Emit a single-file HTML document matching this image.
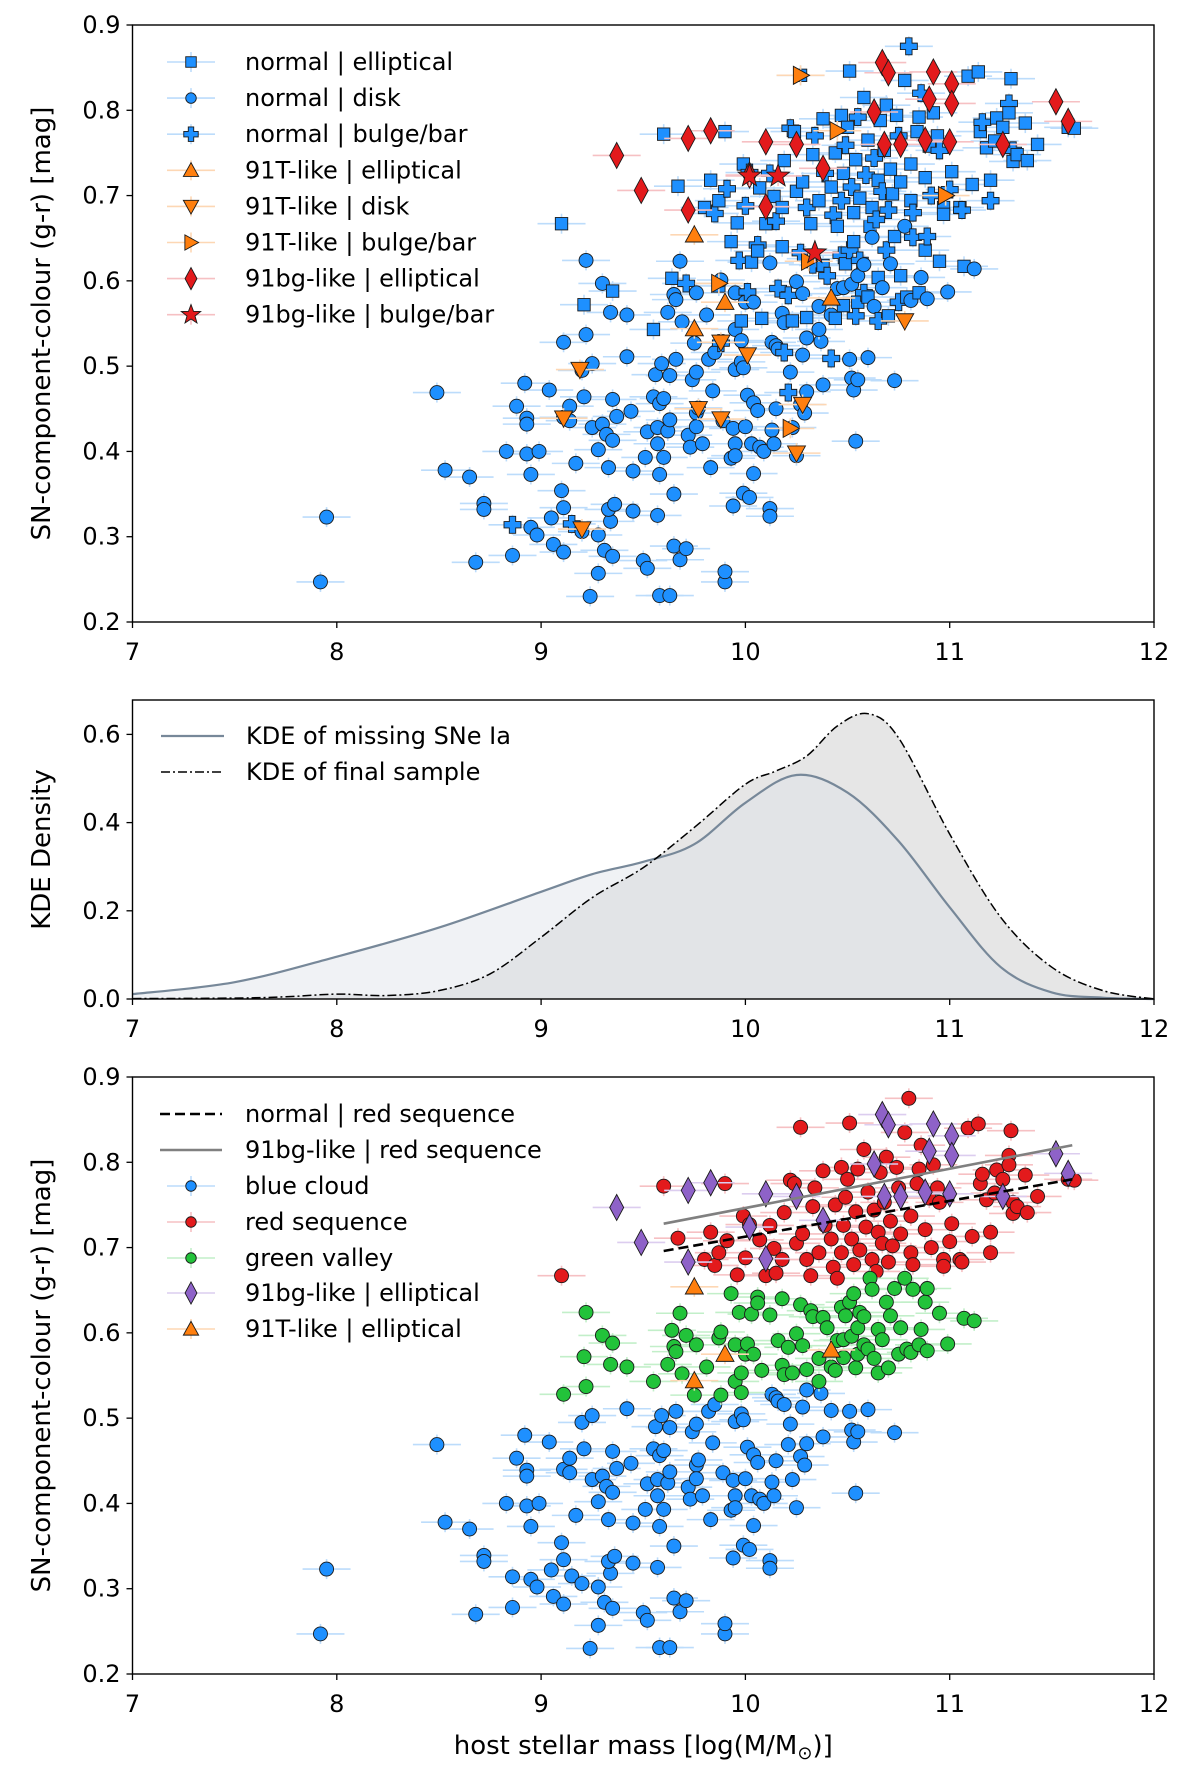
<!DOCTYPE html>
<html><head><meta charset="utf-8"><style>
html,body{margin:0;padding:0;background:#fff}
svg{display:block;font-family:"DejaVu Sans","Liberation Sans",sans-serif}
</style></head><body>
<svg id="fig" width="1200" height="1773" viewBox="0 0 1200 1773" xmlns="http://www.w3.org/2000/svg"></svg>
<script>
// ---------- data ----------
const xTicks=[7,8,9,10,11,12];
const colourTicks=[0.2,0.3,0.4,0.5,0.6,0.7,0.8,0.9];
const kdeTicks=[0.0,0.2,0.4,0.6];
const blueX=[7.92,7.95,8.49,8.53,8.65,8.68,8.72,8.72,8.83,8.86,8.86,8.88,8.92,8.93,8.93,8.93,8.95,8.95,8.99,8.98,9.04,9.05,9.06,9.10,9.11,9.11,9.11,9.14,9.14,9.17,9.15,9.2,9.2,9.21,9.24,9.25,9.25,9.28,9.28,9.28,9.31,9.30,9.32,9.33,9.34,9.33,9.35,9.35,9.35,9.36,9.37,9.42,9.44,9.45,9.45,9.5,9.51,9.52,9.52,9.55,9.56,9.57,9.57,9.58,9.58,9.57,9.58,9.59,9.60,9.60,9.62,9.63,9.63,9.63,9.65,9.65,9.66,9.68,9.71,9.72,9.73,9.74,9.76,9.76,9.76,9.77,9.79,9.82,9.83,9.84,9.85,9.89,9.90,9.90,9.93,9.94,9.94,9.95,9.95,9.95,9.98,9.99,9.99,10.0,10.01,10.02,10.04,10.04,10.03,10.06,10.07,10.09,10.12,10.12,10.13,10.14,10.15,10.13,10.15,10.16,10.19,10.21,10.22,10.23,10.25,10.27,10.28,10.29,10.30,10.30,10.38,10.37,10.42,10.52,10.53,10.54,10.55,10.51,10.60,10.73];
const blueY=[0.247,0.323,0.469,0.378,0.370,0.270,0.339,0.332,0.400,0.314,0.278,0.453,0.480,0.439,0.432,0.397,0.373,0.311,0.400,0.302,0.472,0.322,0.291,0.354,0.440,0.334,0.282,0.453,0.436,0.386,0.315,0.495,0.306,0.464,0.230,0.503,0.428,0.402,0.257,0.302,0.284,0.432,0.420,0.381,0.318,0.332,0.413,0.277,0.461,0.338,0.441,0.511,0.447,0.330,0.377,0.272,0.393,0.263,0.423,0.464,0.490,0.428,0.325,0.231,0.373,0.409,0.456,0.503,0.393,0.462,0.424,0.231,0.489,0.437,0.289,0.350,0.508,0.273,0.286,0.419,0.405,0.484,0.493,0.445,0.429,0.451,0.409,0.508,0.381,0.471,0.516,0.436,0.247,0.259,0.392,0.336,0.427,0.409,0.395,0.496,0.505,0.498,0.351,0.429,0.466,0.346,0.374,0.457,0.409,0.448,0.405,0.400,0.333,0.324,0.425,0.409,0.450,0.528,0.524,0.520,0.516,0.469,0.493,0.428,0.395,0.455,0.513,0.445,0.470,0.533,0.478,0.529,0.509,0.486,0.472,0.412,0.484,0.508,0.510,0.483];
const greenX=[9.11,9.22,9.21,9.22,9.30,9.35,9.34,9.42,9.55,9.62,9.64,9.65,9.68,9.66,9.69,9.71,9.75,9.76,9.81,9.87,9.88,9.88,9.93,9.95,9.95,9.97,9.98,9.98,10.0,10.01,10.03,10.04,10.06,10.06,10.08,10.12,10.16,10.18,10.18,10.19,10.21,10.23,10.25,10.27,10.28,10.30,10.32,10.33,10.36,10.36,10.38,10.40,10.42,10.44,10.45,10.47,10.48,10.48,10.49,10.51,10.52,10.53,10.54,10.55,10.55,10.56,10.58,10.58,10.60,10.61,10.62,10.63,10.65,10.65,10.67,10.69,10.70,10.71,10.73,10.75,10.76,10.78,10.79,10.81,10.82,10.85,10.86,10.88,10.89,10.89,10.95,10.99,11.07,11.12];
const greenY=[0.528,0.624,0.572,0.537,0.597,0.588,0.563,0.560,0.543,0.563,0.603,0.584,0.623,0.578,0.552,0.597,0.527,0.586,0.560,0.594,0.601,0.527,0.646,0.586,0.543,0.624,0.553,0.530,0.575,0.587,0.622,0.575,0.642,0.635,0.556,0.621,0.591,0.640,0.562,0.551,0.583,0.553,0.599,0.633,0.585,0.557,0.626,0.619,0.543,0.570,0.618,0.606,0.560,0.556,0.591,0.630,0.592,0.571,0.620,0.636,0.596,0.646,0.559,0.606,0.575,0.624,0.619,0.586,0.581,0.664,0.651,0.570,0.553,0.604,0.592,0.636,0.559,0.620,0.652,0.575,0.606,0.664,0.581,0.577,0.651,0.586,0.604,0.636,0.652,0.579,0.623,0.587,0.617,0.614];
const redX=[9.10,9.60,9.67,9.80,9.83,9.85,9.87,9.90,9.91,9.96,9.99,10.0,10.02,10.07,10.10,10.12,10.14,10.15,10.18,10.19,10.22,10.24,10.25,10.27,10.28,10.30,10.32,10.33,10.34,10.36,10.38,10.39,10.42,10.43,10.44,10.45,10.47,10.47,10.48,10.49,10.50,10.51,10.52,10.53,10.54,10.55,10.56,10.58,10.59,10.60,10.62,10.63,10.64,10.65,10.66,10.67,10.68,10.69,10.70,10.71,10.72,10.74,10.75,10.76,10.78,10.80,10.81,10.81,10.82,10.84,10.85,10.86,10.88,10.90,10.91,10.92,10.94,10.95,10.97,10.97,11.00,11.01,11.05,11.06,11.09,11.11,11.14,11.15,11.16,11.18,11.20,11.20,11.22,11.23,11.26,11.29,11.29,11.30,11.31,11.31,11.33,11.37,11.38,11.43,11.58,11.61];
const redY=[0.667,0.772,0.711,0.686,0.718,0.679,0.694,0.775,0.708,0.668,0.737,0.688,0.727,0.709,0.667,0.726,0.699,0.670,0.686,0.741,0.779,0.775,0.705,0.841,0.716,0.686,0.667,0.748,0.770,0.694,0.790,0.726,0.710,0.677,0.750,0.664,0.694,0.794,0.726,0.759,0.780,0.846,0.710,0.680,0.742,0.792,0.697,0.815,0.724,0.765,0.686,0.744,0.672,0.718,0.788,0.705,0.753,0.806,0.683,0.731,0.702,0.794,0.770,0.716,0.835,0.875,0.694,0.737,0.680,0.775,0.792,0.820,0.721,0.758,0.700,0.797,0.770,0.753,0.686,0.678,0.707,0.728,0.686,0.683,0.840,0.713,0.845,0.775,0.786,0.756,0.718,0.694,0.764,0.791,0.780,0.808,0.797,0.837,0.753,0.740,0.748,0.785,0.741,0.760,0.780,0.779];
const greenMorph="DDSDDSDDSDSDDDDBDDDSDBSDDBSDDBSDBSSDBSDDBSDBDSBBDDSBDSDBDSSBDSBDSBDBSSDDBSDBSDSBSDSDBSDSBDSDS";
const redMorph="SSSSSBSSBSSBBSSBSBSSBSSSSBSSBSSBSBSSBSSBSSBSSBSSBSSBBSSBSSBSSSBSSBSSBSSBSSBSSBSSBSSBSSSSBSSBSSSBSSBSSSSS";
const blueBulge=[9,30,120,121,132];
const bgX=[9.37,9.49,9.72,9.72,9.83,10.02,10.10,10.10,10.25,10.38,10.63,10.67,10.70,10.68,10.76,10.88,10.90,10.92,11.01,11.01,11.00,11.26,11.52,11.58];
const bgY=[0.747,0.706,0.683,0.767,0.776,0.724,0.687,0.763,0.760,0.732,0.798,0.856,0.844,0.760,0.760,0.765,0.813,0.845,0.831,0.808,0.763,0.760,0.810,0.787];
const bgStarX=[10.02,10.16,10.34];
const bgStarY=[0.723,0.723,0.633];
const tUpX=[9.75,9.90,9.75,10.42];
const tUpY=[0.654,0.575,0.544,0.580];
const tDownX=[9.19,9.11,9.20,9.77,9.88,9.88,10.01,10.28,10.25,10.78];
const tDownY=[0.496,0.439,0.309,0.450,0.438,0.528,0.513,0.455,0.398,0.553];
const tRightX=[10.27,10.45,10.98,9.87,10.31,10.22];
const tRightY=[0.841,0.776,0.700,0.597,0.623,0.427];
const kdeGrid=[7,7.5,8,8.5,9,9.25,9.5,9.75,10,10.25,10.5,10.75,11,11.25,11.5,11.75,12];
const kdeMissing=[0.011,0.038,0.096,0.162,0.243,0.283,0.311,0.351,0.445,0.508,0.468,0.358,0.208,0.072,0.015,0.003,0.0];
const finalGrid=[7,7.5,7.75,8,8.25,8.5,8.75,9,9.25,9.5,9.75,10,10.15,10.3,10.45,10.6,10.75,11,11.25,11.5,11.75,12];
const kdeFinal=[0.001,0.002,0.005,0.011,0.008,0.019,0.057,0.14,0.23,0.298,0.389,0.487,0.517,0.551,0.619,0.647,0.592,0.374,0.185,0.072,0.019,0.0];
const fitX=[9.6,11.6];
const fitNormal=[0.696,0.780];
const fit91bg=[0.728,0.820];

// ---------- helpers ----------
const NS="http://www.w3.org/2000/svg";
const svg=document.getElementById('fig');
function el(tag,attrs,parent){const e=document.createElementNS(NS,tag);for(const k in attrs)e.setAttribute(k,attrs[k]);(parent||svg).appendChild(e);return e;}
const L=132.5,R=1154;
function xs(v){return L+(v-7)/5*(R-L);}
function mkY(top,bot,vmin,vmax){return v=>bot-(v-vmin)/(vmax-vmin)*(bot-top);}
const P1={top:25,bot:622,y:mkY(25,622,0.2,0.9)};
const P2={top:700,bot:999,y:mkY(700,999,0,0.678)};
const P3={top:1077,bot:1674,y:mkY(1077,1674,0.2,0.9)};
const COL={blue:'#1e90ff',red:'#e31a1c',green:'#22c33a',purple:'#8e62c8',orange:'#ff7f0e'};
const ERR={blue:'#bcdcfb',red:'#f6c0c3',green:'#c2efc9',purple:'#dccdef',orange:'#fdd7b4'};

function marker(g,shape,cx,cy,fill,s){
  s=s||1;let e;
  const st={fill:fill,stroke:'#1a1a1a','stroke-width':0.9};
  if(shape==='D'){e=el('circle',Object.assign({cx:cx,cy:cy,r:7*s},st),g);}
  else if(shape==='S'){const h=6.2*s;e=el('rect',Object.assign({x:cx-h,y:cy-h,width:2*h,height:2*h},st),g);}
  else if(shape==='B'){const a=8.5*s,b=3.2*s;e=el('polygon',Object.assign({points:[[-b,-a],[b,-a],[b,-b],[a,-b],[a,b],[b,b],[b,a],[-b,a],[-b,b],[-a,b],[-a,-b],[-b,-b]].map(p=>(cx+p[0])+','+(cy+p[1])).join(' ')},st),g);}
  else if(shape==='U'){const a=9*s;e=el('polygon',Object.assign({points:`${cx},${cy-a} ${cx+a},${cy+a*0.8} ${cx-a},${cy+a*0.8}`},st),g);}
  else if(shape==='V'){const a=9*s;e=el('polygon',Object.assign({points:`${cx},${cy+a} ${cx+a},${cy-a*0.8} ${cx-a},${cy-a*0.8}`},st),g);}
  else if(shape==='R'){const a=9*s;e=el('polygon',Object.assign({points:`${cx+a},${cy} ${cx-a*0.8},${cy-a} ${cx-a*0.8},${cy+a}`},st),g);}
  else if(shape==='M'){const w=7*s,h=13*s;e=el('polygon',Object.assign({points:`${cx},${cy-h} ${cx+w},${cy} ${cx},${cy+h} ${cx-w},${cy}`},st),g);}
  else if(shape==='*'){const ro=12*s,ri=5*s;let pts=[];for(let i=0;i<10;i++){const r=i%2?ri:ro;const a=-Math.PI/2+i*Math.PI/5;pts.push((cx+r*Math.cos(a)).toFixed(1)+','+(cy+r*Math.sin(a)).toFixed(1));}e=el('polygon',Object.assign({points:pts.join(' ')},st),g);}
  return e;
}
function errbar(g,cx,cy,col){
  el('line',{x1:cx-24,y1:cy,x2:cx+24,y2:cy,stroke:col,'stroke-width':1.6},g);
  el('line',{x1:cx,y1:cy-10,x2:cx,y2:cy+10,stroke:col,'stroke-width':1.6},g);
}
function scatter(P,xsArr,ysArr,shapeFn,colKey,name){
  const g=el('g',{});
  
  
  for(let i=0;i<xsArr.length;i++)errbar(g,xs(xsArr[i]),P.y(ysArr[i]),ERR[colKey]);
  for(let i=0;i<xsArr.length;i++){
    const m=marker(g,shapeFn(i),xs(xsArr[i]),P.y(ysArr[i]),COL[colKey]);
    
    
  }
}
function axes(P,yticks,fmt,ylabel,pname){
  const g=el('g',{});
  
  
  el('rect',{x:L,y:P.top,width:R-L,height:P.bot-P.top,fill:'none',stroke:'#000','stroke-width':1.4},g);
  xTicks.forEach(t=>{const x=xs(t);el('line',{x1:x,y1:P.bot,x2:x,y2:P.bot+6,stroke:'#000','stroke-width':1.3},g);
    const tx=el('text',{x:x,y:P.bot+38,'font-size':24,'text-anchor':'middle',fill:'#000'},g);tx.textContent=t;
    });
  yticks.forEach(t=>{const y=P.y(t);el('line',{x1:L-6,y1:y,x2:L,y2:y,stroke:'#000','stroke-width':1.3},g);
    const tx=el('text',{x:L-12,y:y+8,'font-size':24,'text-anchor':'end',fill:'#000'},g);tx.textContent=fmt(t);
    });
  const cy=(P.top+P.bot)/2;
  const yl=el('text',{x:0,y:0,'font-size':26,'text-anchor':'middle',transform:`translate(50,${cy}) rotate(-90)`,fill:'#000'},g);
  yl.textContent=ylabel;
  
}
function legendText(g,x,y,t){const e=el('text',{x:x,y:y+8,'font-size':24,fill:'#000'},g);e.textContent=t;return e;}
function smoothPath(px,py){
  let d=`M${px[0].toFixed(1)},${py[0].toFixed(1)}`;
  for(let i=0;i<px.length-1;i++){
    const i0=Math.max(0,i-1),i3=Math.min(px.length-1,i+2);
    const c1x=px[i]+(px[i+1]-px[i0])/6,c1y=py[i]+(py[i+1]-py[i0])/6;
    const c2x=px[i+1]-(px[i3]-px[i])/6,c2y=py[i+1]-(py[i3]-py[i])/6;
    d+=` C${c1x.toFixed(1)},${c1y.toFixed(1)} ${c2x.toFixed(1)},${c2y.toFixed(1)} ${px[i+1].toFixed(1)},${py[i+1].toFixed(1)}`;
  }
  return d;
}

// ---------- panel 1 ----------
const blueShape=i=>blueBulge.includes(i)?'B':'D';
scatter(P1,blueX,blueY,blueShape,'blue','normal-disk-points');
scatter(P1,greenX,greenY,i=>greenMorph[i]||'D','blue','normal-mid-points');
scatter(P1,redX,redY,i=>redMorph[i]||'S','blue','normal-red-points');
scatter(P1,tUpX,tUpY,()=>'U','orange','91t-elliptical-points');
scatter(P1,tDownX,tDownY,()=>'V','orange','91t-disk-points');
scatter(P1,tRightX,tRightY,()=>'R','orange','91t-bulge-points');
scatter(P1,bgX,bgY,()=>'M','red','91bg-elliptical-points');
scatter(P1,bgStarX,bgStarY,()=>'*','red','91bg-bulge-points');
axes(P1,colourTicks,t=>t.toFixed(1),'SN-component-colour (g-r) [mag]','top-panel');
(function(){
  const g=el('g',{});
  const items=[['S','blue','normal | elliptical'],['D','blue','normal | disk'],['B','blue','normal | bulge/bar'],['U','orange','91T-like | elliptical'],['V','orange','91T-like | disk'],['R','orange','91T-like | bulge/bar'],['M','red','91bg-like | elliptical'],['*','red','91bg-like | bulge/bar']];
  items.forEach((it,i)=>{const y=62+i*36.1;
    const sub=el('g',{},g);
    errbar(sub,191,y,ERR[it[1]]);marker(sub,it[0],191,y,COL[it[1]],it[0]==='D'?0.75:0.85);legendText(sub,245,y,it[2]);});
})();

// ---------- panel 2 ----------
(function(){
  const g=el('g',{});
  const y=P2.y, base=y(0);
  const dF=smoothPath(finalGrid.map(xs),kdeFinal.map(y));
  const dM=smoothPath(kdeGrid.map(xs),kdeMissing.map(y));
  const a1=el('path',{d:dF+` L${xs(12)},${base} L${xs(7)},${base} Z`,fill:'#d5d5d5','fill-opacity':0.6},g);
  
  const a2=el('path',{d:dM+` L${xs(12)},${base} L${xs(7)},${base} Z`,fill:'#dde3e8','fill-opacity':0.45},g);
  
  const l1=el('path',{d:dM,fill:'none',stroke:'#778899','stroke-width':2.2},g);
  
  const l2=el('path',{d:dF,fill:'none',stroke:'#000','stroke-width':1.5,'stroke-dasharray':'9 3 2 3'},g);
  
})();
axes(P2,kdeTicks,t=>t.toFixed(1),'KDE Density','kde');
(function(){
  const g=el('g',{});
  el('line',{x1:161,y1:736,x2:224,y2:736,stroke:'#778899','stroke-width':2.2},g);
  legendText(g,246,736,'KDE of missing SNe Ia');
  el('line',{x1:161,y1:772,x2:224,y2:772,stroke:'#000','stroke-width':1.5,'stroke-dasharray':'9 3 2 3'},g);
  legendText(g,246,772,'KDE of final sample');
})();

// ---------- panel 3 ----------
scatter(P3,blueX,blueY,()=>'D','blue','blue-cloud-points');
scatter(P3,redX,redY,()=>'D','red','red-sequence-points');
scatter(P3,greenX,greenY,()=>'D','green','green-valley-points');
scatter(P3,bgX,bgY,()=>'M','purple','91bg-elliptical-points-bottom');
scatter(P3,tUpX,tUpY,()=>'U','orange','91t-elliptical-points-bottom');
(function(){
  const l1=el('line',{x1:xs(fitX[0]),y1:P3.y(fit91bg[0]),x2:xs(fitX[1]),y2:P3.y(fit91bg[1]),stroke:'#808080','stroke-width':2.6});
  
  const l2=el('line',{x1:xs(fitX[0]),y1:P3.y(fitNormal[0]),x2:xs(fitX[1]),y2:P3.y(fitNormal[1]),stroke:'#000','stroke-width':2.6,'stroke-dasharray':'10 5'});
  
})();
axes(P3,colourTicks,t=>t.toFixed(1),'SN-component-colour (g-r) [mag]','bottom-panel');
(function(){
  const g=el('g',{});
  const ys=[1114,1150,1186,1222,1258,1293,1329];
  el('line',{x1:160,y1:ys[0],x2:222,y2:ys[0],stroke:'#000','stroke-width':2.6,'stroke-dasharray':'10 5'},g);
  legendText(g,245,ys[0],'normal | red sequence');
  el('line',{x1:160,y1:ys[1],x2:222,y2:ys[1],stroke:'#808080','stroke-width':2.6},g);
  legendText(g,245,ys[1],'91bg-like | red sequence');
  const it=[['D','blue','blue cloud'],['D','red','red sequence'],['D','green','green valley'],['M','purple','91bg-like | elliptical'],['U','orange','91T-like | elliptical']];
  it.forEach((m,i)=>{const y=ys[i+2];errbar(g,191,y,ERR[m[1]]);marker(g,m[0],191,y,COL[m[1]],m[0]==='D'?0.75:0.85);legendText(g,245,y,m[2]);});
})();
(function(){
  const t=el('text',{x:(L+R)/2,y:1754,'font-size':26,'text-anchor':'middle',fill:'#000'});
  
  t.appendChild(document.createTextNode('host stellar mass [log(M/M'));
  const s=document.createElementNS(NS,'tspan');s.setAttribute('font-size','18');s.setAttribute('dy','5');s.textContent='\u2299';t.appendChild(s);
  const s2=document.createElementNS(NS,'tspan');s2.setAttribute('dy','-5');s2.textContent=')]';t.appendChild(s2);
})();
</script>
</body></html>
